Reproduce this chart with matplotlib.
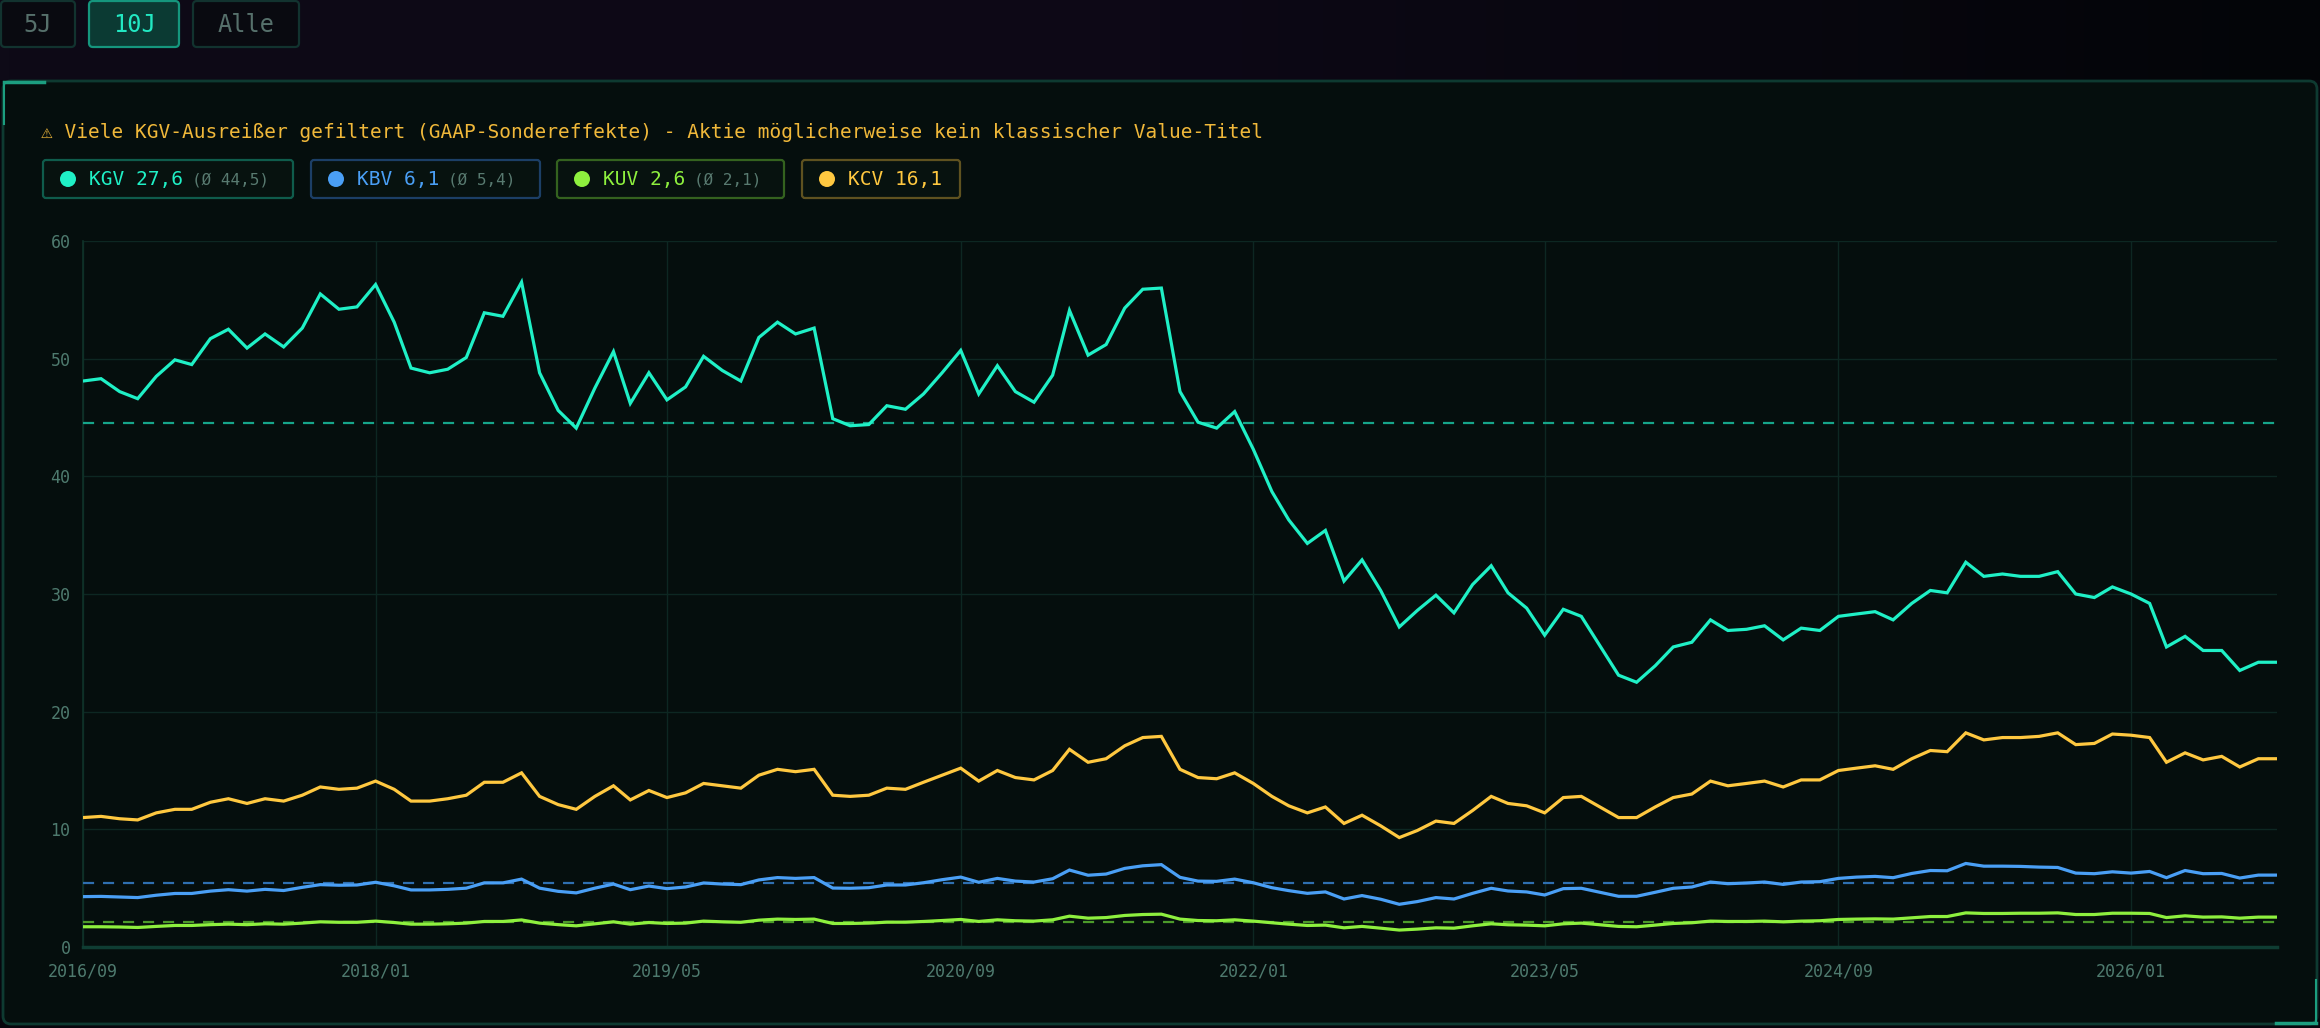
import matplotlib
matplotlib.use('Agg')
import matplotlib.pyplot as plt
import matplotlib.dates as mdates
from matplotlib.patches import FancyBboxPatch, Circle
import numpy as np
import pandas as pd

W, H = 2320, 1028

# monthly values 2016/09 .. 2026/09
dates = pd.date_range('2016-09-01', periods=121, freq='MS')

kgv = [48.1, 48.3, 47.2, 46.6, 48.5, 49.9, 49.5, 51.7, 52.5, 50.9,
       52.1, 51.0, 52.6, 55.5, 54.2, 54.4, 56.3, 53.1, 49.2, 48.8,
       49.1, 50.1, 53.9, 53.6, 56.5, 48.8, 45.6, 44.1, 47.5, 50.6,
       46.2, 48.8, 46.5, 47.6, 50.2, 49.0, 48.1, 51.8, 53.1, 52.1,
       52.6, 44.9, 44.3, 44.4, 46.0, 45.7, 47.0, 48.8, 50.7, 47.0,
       49.4, 47.2, 46.3, 48.6, 54.1, 50.3, 51.2, 54.3, 55.9, 56.0,
       47.2, 44.6, 44.1, 45.5, 42.3, 38.7, 36.3, 34.3, 35.4, 31.1,
       32.9, 30.3, 27.2, 28.6, 29.9, 28.4, 30.8, 32.4, 30.1, 28.8,
       26.5, 28.7, 28.1, 25.6, 23.1, 22.5, 23.9, 25.5, 25.9, 27.8,
       26.9, 27.0, 27.3, 26.1, 27.1, 26.9, 28.1, 28.3, 28.5, 27.8,
       29.2, 30.3, 30.1, 32.7, 31.5, 31.7, 31.5, 31.5, 31.9, 30.0,
       29.7, 30.6, 30.0, 29.2, 25.5, 26.4, 25.2, 25.2, 23.5, 24.2, 24.2]

kcv = [11.0, 11.1, 10.9, 10.8, 11.4, 11.7, 11.7, 12.3, 12.6, 12.2,
       12.6, 12.4, 12.9, 13.6, 13.4, 13.5, 14.1, 13.4, 12.4, 12.4,
       12.6, 12.9, 14.0, 14.0, 14.8, 12.8, 12.1, 11.7, 12.8, 13.7,
       12.5, 13.3, 12.7, 13.1, 13.9, 13.7, 13.5, 14.6, 15.1, 14.9,
       15.1, 12.9, 12.8, 12.9, 13.5, 13.4, 14.0, 14.6, 15.2, 14.1,
       15.0, 14.4, 14.2, 15.0, 16.8, 15.7, 16.0, 17.1, 17.8, 17.9,
       15.1, 14.4, 14.3, 14.8, 13.9, 12.8, 12.0, 11.4, 11.9, 10.5,
       11.2, 10.3, 9.3, 9.9, 10.7, 10.5, 11.6, 12.8, 12.2, 12.0,
       11.4, 12.7, 12.8, 11.9, 11.0, 11.0, 11.9, 12.7, 13.0, 14.1,
       13.7, 13.9, 14.1, 13.6, 14.2, 14.2, 15.0, 15.2, 15.4, 15.1,
       16.0, 16.7, 16.6, 18.2, 17.6, 17.8, 17.8, 17.9, 18.2, 17.2,
       17.3, 18.1, 18.0, 17.8, 15.7, 16.5, 15.9, 16.2, 15.3, 16.0, 16.0]

kbv = [4.28, 4.3, 4.25, 4.2, 4.4, 4.55, 4.55, 4.75, 4.87, 4.75,
       4.9, 4.8, 5.07, 5.3, 5.25, 5.27, 5.5, 5.2, 4.85, 4.85,
       4.9, 5.0, 5.45, 5.45, 5.77, 5.0, 4.73, 4.6, 5.0, 5.35,
       4.87, 5.18, 4.96, 5.1, 5.44, 5.35, 5.3, 5.7, 5.9, 5.83,
       5.9, 5.01, 4.99, 5.04, 5.27, 5.27, 5.46, 5.72, 5.94, 5.5,
       5.83, 5.6, 5.52, 5.8, 6.54, 6.1, 6.2, 6.68, 6.9, 7.0,
       5.92, 5.6, 5.58, 5.77, 5.46, 5.04, 4.79, 4.56, 4.68, 4.08,
       4.37, 4.06, 3.63, 3.86, 4.2, 4.08, 4.56, 4.99, 4.76, 4.68,
       4.42, 4.96, 4.99, 4.65, 4.31, 4.31, 4.65, 4.99, 5.1, 5.52,
       5.38, 5.44, 5.52, 5.32, 5.52, 5.55, 5.83, 5.94, 6.0, 5.89,
       6.25, 6.5, 6.48, 7.1, 6.87, 6.87, 6.85, 6.79, 6.76, 6.28,
       6.23, 6.39, 6.28, 6.42, 5.89, 6.5, 6.23, 6.25, 5.86, 6.11, 6.11]

kuv = [1.72, 1.72, 1.7, 1.66, 1.75, 1.83, 1.83, 1.9, 1.94, 1.9,
       1.97, 1.94, 2.03, 2.14, 2.1, 2.1, 2.2, 2.08, 1.94, 1.94,
       1.97, 2.03, 2.17, 2.17, 2.3, 2.03, 1.9, 1.8, 1.97, 2.14,
       1.94, 2.08, 2.0, 2.03, 2.2, 2.14, 2.1, 2.28, 2.37, 2.34,
       2.37, 2.0, 2.0, 2.03, 2.11, 2.11, 2.17, 2.25, 2.34, 2.17,
       2.31, 2.23, 2.2, 2.31, 2.62, 2.45, 2.5, 2.68, 2.76, 2.79,
       2.37, 2.25, 2.23, 2.31, 2.2, 2.06, 1.94, 1.83, 1.86, 1.63,
       1.75, 1.6, 1.44, 1.52, 1.63, 1.6, 1.8, 1.97, 1.89, 1.86,
       1.8, 1.97, 2.03, 1.89, 1.75, 1.72, 1.86, 2.0, 2.06, 2.2,
       2.17, 2.17, 2.2, 2.14, 2.2, 2.23, 2.34, 2.37, 2.39, 2.37,
       2.48, 2.59, 2.59, 2.9, 2.85, 2.85, 2.87, 2.87, 2.9, 2.76,
       2.76, 2.87, 2.87, 2.85, 2.5, 2.65, 2.54, 2.56, 2.45, 2.54, 2.54]

averages = {'KGV': 44.5, 'KBV': 5.4, 'KUV': 2.1}
tick_labels = ['2016/09', '2018/01', '2019/05', '2020/09',
               '2022/01', '2023/05', '2024/09', '2026/01']
range_buttons = ['5J', '10J', 'Alle']
legend_items = [('KGV', 'KGV 27,6', '(Ø 44,5)'),
                ('KBV', 'KBV 6,1', '(Ø 5,4)'),
                ('KUV', 'KUV 2,6', '(Ø 2,1)'),
                ('KCV', 'KCV 16,1', None)]
warning = '⚠ Viele KGV-Ausreißer gefiltert (GAAP-Sondereffekte) - Aktie möglicherweise kein klassischer Value-Titel'

colors = {'KGV': '#1ff0c6', 'KBV': '#4a9ff5', 'KUV': '#8ef03e', 'KCV': '#ffc840'}
border_cols = {'KGV': '#0f5c4c', 'KBV': '#1c3f66', 'KUV': '#34621f', 'KCV': '#5f5220'}
avg_cols = {'KGV': '#16a58a', 'KBV': '#2f6fb0', 'KUV': '#4c9a2a'}

MONO = ['DejaVu Sans Mono', 'DejaVu Sans']
plt.rcParams['font.family'] = MONO

fig = plt.figure(figsize=(W / 100, H / 100), dpi=100)
fig.patch.set_facecolor('#07060d')

# overlay in pixel coordinates for the page chrome
bg = fig.add_axes([0, 0, 1, 1], zorder=0)
bg.set_xlim(0, W)
bg.set_ylim(H, 0)
bg.axis('off')

grad = np.linspace(0, 1, 256).reshape(1, -1)
from matplotlib.colors import LinearSegmentedColormap
top_cmap = LinearSegmentedColormap.from_list('top', ['#0e0a17', '#0d0816', '#030508'])
bg.imshow(grad, cmap=top_cmap, extent=[0, W, 80, 0], aspect='auto', zorder=0)

# range buttons
btn_boxes = [(1, 1, 74, 46), (89, 1, 90, 46), (193, 1, 106, 46)]
for label, (bx, by, bw, bh) in zip(range_buttons, btn_boxes):
    active = label == '10J'
    bg.add_patch(FancyBboxPatch((bx, by), bw, bh, boxstyle='round,pad=0,rounding_size=4',
                                fc='#0b3a33' if active else '#090a10',
                                ec='#15967d' if active else '#12332f', lw=1.6, zorder=2))
    bg.text(bx + bw / 2, by + bh / 2 + 1, label, ha='center', va='center',
            fontsize=17, color='#22e8c2' if active else '#56706b', zorder=3)

# main panel
bg.add_patch(FancyBboxPatch((3, 81), W - 6, H - 85, boxstyle='round,pad=0,rounding_size=8',
                            fc='#050e0d', ec='#0e3a31', lw=2, zorder=1))
bg.plot([4, 44], [82, 82], color='#1c9e80', lw=2.5, zorder=2)
bg.plot([4, 4], [82, 124], color='#1c9e80', lw=1.5, zorder=2)
bg.plot([2276, 2316], [1023, 1023], color='#1c9e80', lw=2.5, zorder=2)
bg.plot([2316, 2316], [980, 1023], color='#1c9e80', lw=1.5, zorder=2)

bg.text(41, 132, warning, ha='left', va='center', fontsize=14, color='#f0b83a', zorder=3)

# legend chips
chip_boxes = [(43, 250), (311, 229), (557, 227), (802, 158)]
for (key, main, avg), (cx, cw) in zip(legend_items, chip_boxes):
    bg.add_patch(FancyBboxPatch((cx, 160), cw, 38, boxstyle='round,pad=0,rounding_size=3',
                                fc='#07120f', ec=border_cols[key], lw=1.6, zorder=2))
    bg.add_patch(Circle((cx + 25, 179), 8, fc=colors[key], ec='none', zorder=3))
    bg.text(cx + 46, 180, main, ha='left', va='center', fontsize=14,
            color=colors[key], zorder=3)
    if avg:
        bg.text(cx + 46 + len(main) * 11.75 + 9, 180, avg, ha='left', va='center',
                fontsize=11.5, color='#587a70', zorder=3)

# chart axes
ax = fig.add_axes([83 / W, (H - 947) / H, 2194 / W, 706 / H], zorder=1)
ax.set_facecolor('none')

series = [('KGV', kgv), ('KCV', kcv), ('KBV', kbv), ('KUV', kuv)]
for key, vals in series:
    ax.plot(dates, vals, color=colors[key], lw=2.3, solid_joinstyle='miter', zorder=4)

for key, val in averages.items():
    ax.axhline(val, color=avg_cols[key], lw=1.6, ls=(0, (5, 4)), zorder=3)

tick_dates = pd.to_datetime(tick_labels, format='%Y/%m')
ax.set_xticks(tick_dates)
ax.xaxis.set_major_formatter(mdates.DateFormatter('%Y/%m'))
ax.set_xlim(dates[0], dates[-1])
ax.set_ylim(0, 60)
ax.set_yticks(range(0, 61, 10))

ax.grid(True, color='#0d2722', lw=1)
ax.tick_params(length=0, labelsize=12, labelcolor='#4e7a6e')
ax.tick_params(axis='y', pad=9)
ax.tick_params(axis='x', pad=11)
for side in ['top', 'right']:
    ax.spines[side].set_visible(False)
ax.spines['bottom'].set_color('#0f3d33')
ax.spines['bottom'].set_linewidth(2.5)
ax.spines['left'].set_color('#0f3329')
ax.spines['left'].set_linewidth(1.2)

fig.savefig('out.png', dpi=100, facecolor=fig.get_facecolor())
